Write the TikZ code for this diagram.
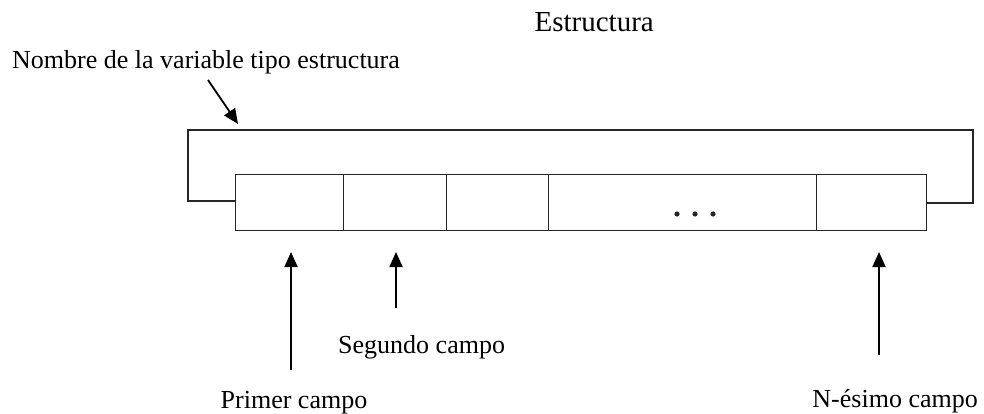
\documentclass[tikz,border=0pt]{standalone}
\usepackage{fontspec}
\setmainfont{Liberation Serif}
\usetikzlibrary{arrows.meta}
\begin{document}
\begin{tikzpicture}[x=1pt,y=-1pt,
  line/.style={line width=1.4pt, draw=black!85},
  cell/.style={line, rectangle, inner sep=0pt, minimum height=56pt},
  pointer/.style={line width=1.8pt, -{Triangle[width=13pt,length=15pt]}},
  lbl/.style={inner sep=0pt, font=\fontsize{26}{30}\selectfont}]
\useasboundingbox (0,0) rectangle (984,414);
% cells
\node[cell, minimum width=108pt, anchor=north west] (c1) at (235,174) {};
\node[cell, minimum width=103pt, anchor=north west] (c2) at (343,174) {};
\node[cell, minimum width=102pt, anchor=north west] (c3) at (446,174) {};
\node[cell, minimum width=268pt, anchor=north west] (c4) at (548,174) {};
\node[cell, minimum width=110pt, anchor=north west] (c5) at (816,174) {};
% dots
\foreach \dx in {677,695,713} \fill[black!85] (\dx,214) circle (2.6pt);
% outer frame
\draw[line] (c1.west |- 0,201) -- (188,201) -- (188,130) -- (973,130) -- (973,203) -- (c5.east |- 0,203);
% labels
\node[lbl, anchor=base east, font=\fontsize{29}{33}\selectfont] (title) at (654,32) {Estructura};
\node[lbl, anchor=base west] (nombre) at (12,69) {Nombre de la variable tipo estructura};
\node[lbl, anchor=base] (primer) at (294,408) {Primer campo};
\node[lbl, anchor=base west] (segundo) at (338,353) {Segundo campo};
\node[lbl, anchor=base east] (nesimo) at (978,407) {N-ésimo campo};
% arrows
\coordinate (a0) at (208,80);
\coordinate (t0) at (238,124);
\draw[pointer] (a0) -- (t0);
\coordinate (a1) at (291,370);
\coordinate (t1) at (291,252);
\draw[pointer] (a1) -- (t1);
\coordinate (a2) at (396,308);
\coordinate (t2) at (396,252);
\draw[pointer] (a2) -- (t2);
\coordinate (a3) at (879,355);
\coordinate (t3) at (879,252);
\draw[pointer] (a3) -- (t3);
\end{tikzpicture}
\end{document}
